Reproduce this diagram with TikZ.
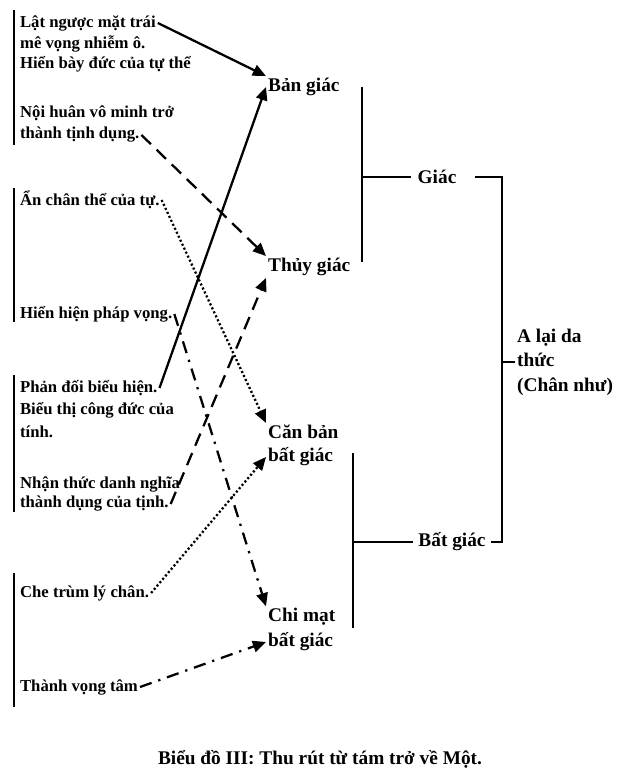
\documentclass[tikz,border=0pt]{standalone}
\usepackage{fontspec}
\setmainfont{Liberation Serif}
\usetikzlibrary{arrows.meta,calc}

\tikzset{
  lefttxt/.style={anchor=west, inner sep=1pt, font=\fontsize{9.5}{11}\selectfont\bfseries},
  righttxt/.style={anchor=west, inner sep=1pt, font=\fontsize{11}{13.9}\selectfont\bfseries},
  link/.style={line width=1.3pt, -{Triangle[length=7.5pt,width=6.5pt]}},
  longdash/.style={link, dash pattern=on 7.5pt off 4.5pt},
  dotline/.style={link, line width=1.3pt, dash pattern=on 1.2pt off 1.3pt},
  dashdotline/.style={link, dash pattern=on 7pt off 4pt on 1.3pt off 4pt},
  bar/.style={line width=1.2pt}
}

\begin{document}
\begin{tikzpicture}[x=0.02cm, y=-0.02cm]
  \useasboundingbox (0,0) rectangle (637,783);

  % Left bars
  \foreach \ya/\yb in {10/145,188/322,375/512,573/707}{
    \draw[bar] (14,\ya) -- (14,\yb);
  }

  % Left texts, one node per printed line
  \foreach \n/\y/\t in {lata/23/Lật ngược mặt trái,latb/44/mê vọng nhiễm ô.,latc/64/Hiển bày đức của tự thể,
                        noia/113/Nội huân vô minh trở,noib/135/thành tịnh dụng.,
                        an/200/Ẩn chân thể của tự.,hien/314/Hiển hiện pháp vọng.,
                        phana/388/Phản đối biểu hiện.,phanb/410/Biểu thị công đức của,phanc/432/tính.,
                        nhana/484/Nhận thức danh nghĩa,nhanb/504/thành dụng của tịnh.,
                        che/593/Che trùm lý chân.,thanh/687/Thành vọng tâm}{
    \node[lefttxt] (\n) at (18,\y) {\t};
  }

  % Targets
  \node[righttxt] (ban)  at (266,87)  {Bản giác};
  \node[righttxt] (thuy) at (266,267) {Thủy giác};
  \node[righttxt] (can)  at (266,432) {Căn bản};
  \node[righttxt] (canb) at (266,457) {bất giác};
  \node[righttxt] (chi)  at (266,617) {Chi mạt};
  \node[righttxt] (chib) at (266,642) {bất giác};

  % Groups
  \node[righttxt, anchor=center, inner xsep=3.5pt] (giac) at (437,177) {Giác};
  \node[righttxt, anchor=center, inner xsep=3pt] (batgiac) at (452,542) {Bất giác};
  \node[righttxt, align=left] (alaya) at (515,362) {A lại da\\thức\\(Chân như)};

  % Brackets
  \draw[bar] (362,87) -- (362,262);
  \draw[bar] (362,177) -- (giac.west);
  \draw[bar] ($(giac.east)+(12,0)$) -- (502,177) -- (502,542) -- (batgiac.east);
  \draw[bar] (502,362) -- (alaya.west);
  \draw[bar] (353,453) -- (353,628);
  \draw[bar] (353,542) -- (batgiac.west);

  % Arrows
  \draw[link] (lata.east) -- (ban.north west);
  \draw[link] (phana.east) -- (ban.west);
  \draw[longdash] (noib.east) -- (thuy.north west);
  \draw[longdash] (nhanb.east) -- (thuy.south west);
  \draw[dotline] (an.east) -- (can.north west);
  \draw[dotline] (che.east) -- (canb.west);
  \draw[dashdotline] (hien.east) -- (chi.north west);
  \draw[dashdotline] (thanh.east) -- (chib.west);

  % Caption
  \node[righttxt, anchor=center] (caption) at (320,759) {Biểu đồ III: Thu rút từ tám trở về Một.};
\end{tikzpicture}
\end{document}
